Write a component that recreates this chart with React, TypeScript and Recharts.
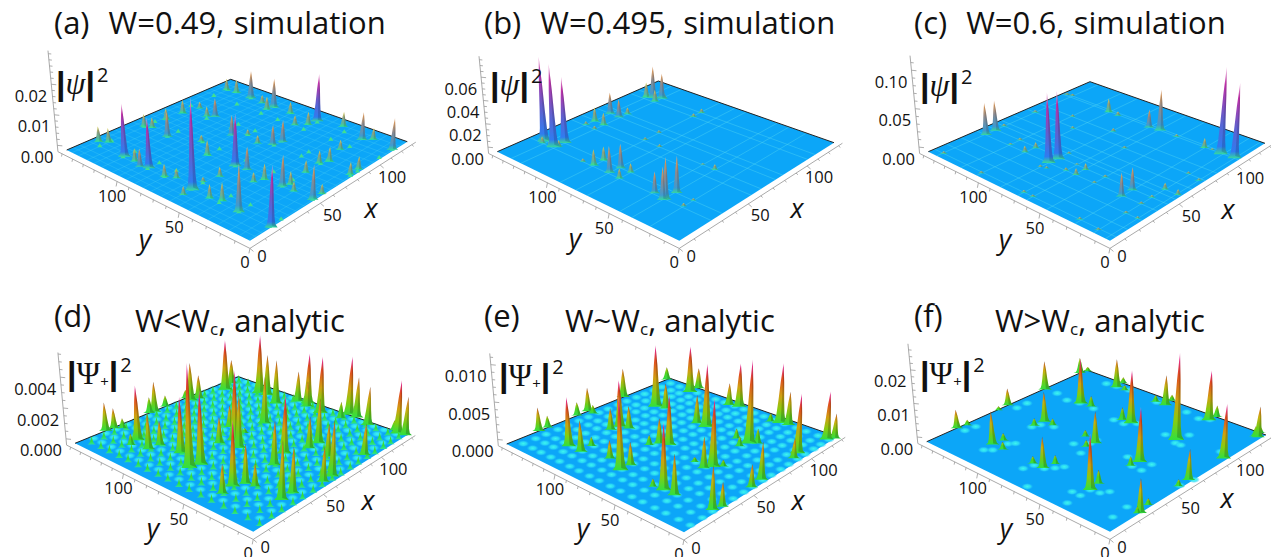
import React from "react";
import { ScatterChart, Scatter, XAxis, YAxis } from "recharts";

type Spike = [number, number, number];

// peaks: [x, y, height in zUnit]
const spikesA: Spike[] = [[15,113,1703],[15,92,1588],[14,56,2777],[45,57,1639],[14,22,1377],[14,0,1731],[45,22,949],[45,1,1020],[113,58,1649],[111,92,1039],[112,113,1001],[111,22,919],[112,1,1026],[17,139,517],[20,134,472],[15,104,421],[13,97,573],[45,134,433],[47,129,352],[45,113,835],[14,78,408],[17,72,305],[8,56,265],[23,58,151],[14,43,419],[16,36,552],[32,55,306],[44,78,481],[53,93,220],[69,85,671],[46,49,724],[75,78,190],[71,66,274],[75,58,656],[81,56,716],[44,34,506],[39,37,303],[49,20,401],[45,14,297],[63,22,391],[52,1,296],[75,23,420],[80,20,474],[94,24,324],[76,2,389],[83,2,414],[117,41,513],[115,17,387],[101,65,343],[106,59,458],[111,78,412],[106,93,474],[111,102,301],[112,126,495],[111,134,437],[80,111,642],[77,115,350],[82,127,238],[71,130,471],[59,131,405]];
const spikesB: Spike[] = [[24,134,738],[23,124,715],[30,123,576],[22,133,58],[22,126,57],[25,122,57],[23,89,134],[30,89,116],[23,76,216],[30,75,199],[30,67,76],[22,67,80],[22,97,28],[23,41,168],[22,32,327],[30,32,290],[21,33,255],[104,128,305],[107,123,240],[102,132,144],[101,123,111],[108,122,48],[72,132,197],[72,124,165],[59,131,130],[59,123,111],[78,123,62],[53,132,30],[52,123,30],[72,89,24],[60,76,23],[61,89,23],[107,88,40],[100,88,31],[60,42,14],[60,33,46],[23,20,25],[30,20,18]];
const spikesC: Spike[] = [[33,136,432],[40,136,409],[33,81,887],[39,80,869],[99,12,1122],[100,3,960],[100,59,553],[99,67,245],[99,101,197],[99,93,61],[82,80,45],[99,24,130],[100,19,22],[32,24,281],[40,24,273],[51,11,79],[51,2,67],[33,59,82],[40,59,82],[33,67,37],[41,67,21],[33,101,86],[40,100,78],[34,115,22],[47,80,30],[4,136,30],[3,101,29],[4,67,28],[4,60,27],[4,25,26],[3,11,26],[22,11,26],[22,3,26],[33,11,27],[41,11,27],[71,12,29],[69,3,28],[100,46,31],[71,60,30],[41,45,28],[33,45,28],[28,77,29],[27,81,29],[41,115,31],[71,137,33],[101,141,34],[102,137,34],[70,102,32],[81,114,33],[47,137,32]];
const spikesD: Spike[] = [[20,145,1883],[25,144,1336],[28,140,668],[24,120,3566],[21,106,2280],[28,105,1602],[18,118,747],[51,145,1100],[54,144,2101],[63,145,786],[21,71,6398],[29,88,3559],[27,69,4580],[79,140,2709],[84,138,1702],[79,145,610],[104,135,3744],[114,140,1784],[22,38,3873],[28,35,2343],[14,37,1715],[29,29,1357],[50,80,1721],[58,76,4561],[68,91,1462],[53,67,3402],[68,78,332],[114,113,4334],[115,107,2958],[109,93,3129],[51,37,2758],[64,42,3682],[28,9,3388],[36,9,2677],[84,78,3184],[122,77,3617],[116,61,3987],[118,74,1791],[120,84,2180],[85,35,2919],[77,35,2027],[125,45,4111],[125,39,2794],[118,46,1158],[121,27,2618],[90,5,1998],[61,4,3385],[54,4,2065],[76,20,2091],[123,6,3567],[124,1,2553],[125,10,675]];
const spikesE: Spike[] = [[21,145,3208],[27,145,1620],[20,115,6518],[20,104,4126],[28,105,1235],[48,145,1916],[56,145,3404],[56,140,1205],[84,145,4311],[20,70,9153],[25,85,2354],[27,70,2950],[54,112,6515],[56,106,3106],[48,113,2996],[87,117,9135],[122,145,1992],[89,110,3689],[56,71,6671],[54,77,3348],[49,80,1332],[20,36,8154],[20,28,4918],[19,43,1001],[117,117,7094],[125,117,3141],[86,71,8902],[86,79,4016],[53,33,8781],[49,36,3991],[57,29,845],[51,45,640],[22,3,5145],[27,1,2882],[118,82,3245],[120,75,6463],[86,36,11324],[86,46,1365],[80,38,1335],[89,32,2023],[118,39,8560],[119,33,4737],[116,45,1194],[94,6,7908],[88,4,2601],[59,3,4715],[50,2,2822],[118,3,6611],[122,0,3437]];
const spikesF: Spike[] = [[21,145,556],[27,143,173],[21,113,976],[28,112,217],[21,104,223],[21,71,886],[21,79,207],[28,69,254],[58,111,919],[51,112,223],[58,104,203],[88,144,927],[59,145,529],[51,144,126],[88,112,1429],[89,104,336],[119,145,509],[124,143,147],[21,35,1506],[28,36,380],[58,35,1554],[52,36,262],[60,79,198],[52,70,194],[58,69,938],[88,77,388],[88,70,1623],[118,111,919],[125,112,199],[118,104,163],[118,78,212],[118,70,947],[125,71,191],[89,36,2568],[119,37,1528],[125,36,359],[89,2,1559],[120,2,905],[125,4,169],[120,4,295],[60,2,846],[52,2,189],[21,0,902],[29,2,174],[20,1,172]];

// light rings on the analytic surfaces
const latticeX = [6,14,21,29,36,44,51,59,66,74,81,89,96,104,111,119];
const latticeY = [2,10,19,27,36,44,53,61,70,78,87,95,104,112,121,129,138];
const ringsDx = [10,18,25,33,40,48,55,63,70,78,85,93,100,108,115,122];
const ringsDy = [6,15,23,32,40,49,57,66,74,83,91,100,108,117,125,134,142];
const spotsF: [number, number][] = [[22,139],[29,138],[17,108],[14,112],[27,107],[30,104],[14,79],[20,77],[21,70],[25,66],[29,63],[14,41],[14,35],[21,35],[22,29],[26,26],[50,78],[56,71],[45,67],[61,71],[52,35],[52,28],[60,28],[58,44],[90,45],[86,34],[98,34],[86,30],[117,43],[120,37],[85,81],[85,73],[90,67],[86,122],[88,113],[88,101],[89,134],[54,110],[57,102],[49,112],[118,120],[119,112],[120,102],[118,77],[119,54],[60,138],[68,138],[94,8],[53,2],[62,0],[3,63],[5,35],[21,9],[10,8]];

// pale grid lines on the simulated surfaces
const gridA = { x: [4,8,14,18,22,27,32,38,45,49,53,58,63,69,75,81,87,94,101,106,112,118], y: [1,7,14,22,29,36,43,50,57,64,72,78,85,92,98,104,113,120,126,134,140] };
const gridB = { x: [22,30,52,60,72,78,100,107], y: [20,33,42,67,76,89,123,132] };
const gridC = { x: [4,12,22,33,41,47,51,60,71,81,100,102], y: [3,11,24,45,60,67,81,101,115,137] };

const bumpsAx = [14,22,45,53,75,81,100,112];
const bumpsAy = [1,22,36,57,78,92,113,134];

const xTicks = [0,10,20,30,40,50,60,70,80,90,100,110,120,130];
const yTicks = [0,10,20,30,40,50,60,70,80,90,100,110,120,130,140,150];
const tickLabels = [0,50,100];

type Pt = [number, number];
type Panel = {
  id: string; left: number; top: number; title: string; sub?: string; lead?: string;
  F: Pt; R: Pt; B: Pt; L: Pt; k: number; zUnit: number; spikes: Spike[];
  zMajor: number[]; zDigits: number; zMinor: number; zTop: number;
  palette: "sim" | "ana"; grid?: { x: number[]; y: number[] };
  psi: string; psiX: number; psiY: number; xLab: Pt; yLab: Pt;
};

const panels: Panel[] = [
  { id: "a", left: 0, top: 0, title: "(a)  W=0.49, simulation", F: [250,240.7], R: [407.3,141.7], B: [230.7,79.3], L: [66.7,150], k: 3710, zUnit: 1e-5, spikes: spikesA, zMajor: [0,0.01,0.02], zDigits: 2, zMinor: 0.002, zTop: 0.031, palette: "sim", grid: gridA, psi: "\u03c8", psiX: 56, psiY: 83, xLab: [371,208], yLab: [145,239] },
  { id: "b", left: 430, top: 0, title: "(b)  W=0.495, simulation", F: [249.3,240.7], R: [404,142.7], B: [228.3,81], L: [67.3,151.7], k: 1410, zUnit: 1e-4, spikes: spikesB, zMajor: [0,0.02,0.04,0.06], zDigits: 2, zMinor: 0.005, zTop: 0.078, palette: "sim", grid: gridB, psi: "\u03c8", psiX: 60, psiY: 84, xLab: [367,208], yLab: [145,238] },
  { id: "c", left: 860, top: 0, title: "(c)  W=0.6, simulation", F: [250,240.7], R: [405,143.3], B: [230,81.7], L: [68.3,151.7], k: 930, zUnit: 1e-4, spikes: spikesC, zMajor: [0,0.05,0.1], zDigits: 2, zMinor: 0.01, zTop: 0.119, palette: "sim", grid: gridC, psi: "\u03c8", psiX: 60, psiY: 85, xLab: [368,209], yLab: [145,239] },
  { id: "d", left: 0, top: 280, lead: "(d)", title: "W<W", sub: "c", F: [253.3,251.7], R: [407.3,155], B: [238.3,96.7], L: [75,163.3], k: 19000, zUnit: 1e-6, spikes: spikesD, zMajor: [0,0.002,0.004], zDigits: 3, zMinor: 0.0005, zTop: 0.0056, palette: "ana", psi: "\u03a8", psiX: 67, psiY: 93, xLab: [368,220], yLab: [153,248] },
  { id: "e", left: 430, top: 280, lead: "(e)", title: "W~W", sub: "c", F: [254,252.3], R: [407.3,156.7], B: [240,98.3], L: [76.7,164], k: 9200, zUnit: 1e-6, spikes: spikesE, zMajor: [0,0.005,0.01], zDigits: 3, zMinor: 0.001, zTop: 0.0115, palette: "ana", psi: "\u03a8", psiX: 69, psiY: 95, xLab: [368,220], yLab: [153,248] },
  { id: "f", left: 860, top: 280, lead: "(f)", title: "W>W", sub: "c", F: [250,251.7], R: [406,155], B: [226.7,90], L: [66.7,161.7], k: 4000, zUnit: 1e-5, spikes: spikesF, zMajor: [0,0.01,0.02], zDigits: 2, zMinor: 0.002, zTop: 0.0278, palette: "ana", psi: "\u03a8", psiX: 60, psiY: 93, xLab: [367,218], yLab: [146,248] },
];

const X_MAX = 125;
const Y_MAX = 145;
const BOX_X = 134;
const BOX_Y = 154;
const FLOOR_PX = 7.7;
const CHART_W = 430;
const CHART_H = 280;
const LEAN_X = 235;
const LEAN_D = 1800;
const FONT = "'Open Sans', sans-serif";

// perspective map from the corners of the surface (x along F-R, y along F-L)
const makeProjection = (p: Panel) => {
  const { F, R, B, L } = p;
  const sx = F[0] - R[0] + B[0] - L[0];
  const sy = F[1] - R[1] + B[1] - L[1];
  const d1x = R[0] - B[0], d1y = R[1] - B[1], d2x = L[0] - B[0], d2y = L[1] - B[1];
  const det = d1x * d2y - d2x * d1y;
  const g = (sx * d2y - d2x * sy) / det;
  const h = (d1x * sy - sx * d1y) / det;
  const a = R[0] - F[0] + g * R[0], b = L[0] - F[0] + h * L[0];
  const d = R[1] - F[1] + g * R[1], e = L[1] - F[1] + h * L[1];
  return (x: number, y: number, z = 0, dx = 0) => {
    const u = x / X_MAX, v = y / Y_MAX;
    const w = 1 + g * u + h * v;
    const baseX = (a * u + b * v + F[0]) / w;
    const lift = (p.k * z) / w;
    return {
      sx: baseX + ((baseX - LEAN_X) * lift) / LEAN_D + dx,
      sy: (d * u + e * v + F[1]) / w - lift,
      w,
    };
  };
};

const NoDot = () => <g />;
const PROFILE: [number, number][] = [[-1,0],[-0.66,0.05],[-0.5,0.16],[-0.36,0.38],[-0.22,0.68],[0,1],[0.22,0.68],[0.36,0.38],[0.5,0.16],[0.66,0.05],[1,0]];
const SHADE: [number, number][] = [[0.1,0.03],[0.06,0.66],[0,1],[0.22,0.68],[0.36,0.38],[0.5,0.16],[0.66,0.05],[1,0]];

const gradients: Record<string, [number, string][]> = {
  simLow: [[0,"#2fe890"],[0.22,"#55b8a0"],[0.6,"#90a080"],[1,"#e8da5c"]],
  simMid: [[0,"#35d8a0"],[0.14,"#3f9ad0"],[0.55,"#8a8a90"],[0.85,"#d89a60"],[1,"#f2c8a8"]],
  simTop: [[0,"#35d8a0"],[0.09,"#2f7cf0"],[0.45,"#6a5ac8"],[0.8,"#c02fa8"],[1,"#ffc0e8"]],
  anaLow: [[0,"#2fe04a"],[0.5,"#50d420"],[0.85,"#a8c410"],[1,"#5a5a20"]],
  anaMid: [[0,"#30e040"],[0.3,"#70cc18"],[0.65,"#c8b010"],[0.9,"#d87820"],[1,"#604030"]],
  anaTop: [[0,"#30e040"],[0.22,"#88cc10"],[0.45,"#d0a010"],[0.75,"#e04a20"],[0.92,"#f03090"],[1,"#ffb0e0"]],
};

const Gradients = () => (
  <svg width={0} height={0} style={{ position: "absolute" }}>
    <defs>
      {Object.entries(gradients).map(([id, stops]) => (
        <linearGradient key={id} id={id} x1="0" y1="1" x2="0" y2="0">
          {stops.map(([o, c]) => <stop key={o} offset={o} stopColor={c} />)}
        </linearGradient>
      ))}
      <radialGradient id="ring">
        <stop offset="0" stopColor="#3ff6ee" />
        <stop offset="0.55" stopColor="#2fe4f4" stopOpacity={0.8} />
        <stop offset="1" stopColor="#20c0f8" stopOpacity={0} />
      </radialGradient>
      <linearGradient id="bump" x1="0" y1="1" x2="0" y2="0">
        <stop offset="0" stopColor="#2ae0a0" />
        <stop offset="0.4" stopColor="#30e040" />
        <stop offset="1" stopColor="#58d018" />
      </linearGradient>
    </defs>
  </svg>
);

const poly = (points: { sx: number; sy: number }[], key: string, props: React.SVGProps<SVGPathElement>) => (
  <Scatter key={key} data={points} shape={NoDot} line={props as any} lineType="joint" legendType="none" isAnimationActive={false} />
);

const Plot = ({ p }: { p: Panel }) => {
  const at = makeProjection(p);
  const floorZ = -FLOOR_PX / p.k;
  const zMax = Math.max(...p.spikes.map((s) => s[2]));
  const sorted = [...p.spikes].sort((s, t) => at(t[0], t[1]).w - at(s[0], s[1]).w);
  const surface = [at(0,0), at(X_MAX,0), at(X_MAX,Y_MAX), at(0,Y_MAX), at(0,0)];
  const family = p.palette;

  const zTicks: { sx: number; sy: number; major: boolean; label: string }[] = [];
  for (let i = 0; i * p.zMinor <= p.zTop; i++) {
    const v = i * p.zMinor;
    const hit = p.zMajor.find((m) => Math.abs(m - v) < p.zMinor / 10);
    const pt = at(0, BOX_Y, v);
    zTicks.push({ sx: pt.sx, sy: pt.sy, major: hit !== undefined, label: hit !== undefined ? hit.toFixed(p.zDigits) : "" });
  }
  const xTickPts = xTicks.map((t) => ({ ...at(t, 0, floorZ), t }));
  const yTickPts = yTicks.map((t) => ({ ...at(0, t, floorZ), t }));

  const tickShape = (dx: number, dy: number, lx: number, ly: number, ly0: number) => (q: any) => {
    const major = tickLabels.includes(q.payload.t);
    const s = major ? 1 : 0.55;
    return (
      <g>
        <line x1={q.cx} y1={q.cy} x2={q.cx + dx * s} y2={q.cy + dy * s} stroke="#999" strokeWidth={0.8} />
        {major && (
          <text x={q.cx + lx} y={q.cy + (q.payload.t === 0 ? ly0 : ly)} textAnchor="middle" dominantBaseline="central" fontFamily={FONT} fontSize={16.5} fill="#111">{q.payload.t}</text>
        )}
      </g>
    );
  };

  const zShape = (q: any) => {
    const major = q.payload.major;
    return (
      <g>
        <line x1={q.cx} y1={q.cy} x2={q.cx + (major ? 5 : 3)} y2={q.cy + (major ? 0.5 : 0.3)} stroke="#999" strokeWidth={0.8} />
        {major && (
          <text x={q.cx - 4} y={q.cy + 11} textAnchor="end" dominantBaseline="central" fontFamily={FONT} fontSize={16.5} fill="#111">{q.payload.label}</text>
        )}
      </g>
    );
  };

  const spotShape = (q: any) => <ellipse cx={q.cx} cy={q.cy} rx={6} ry={3.4} fill="url(#ring)" />;
  const bumpShape = (q: any) => (
    <path d={`M${q.cx - 4.2} ${q.cy + 1.6}Q${q.cx - 1.2} ${q.cy + 0.8} ${q.cx} ${q.cy - 7}Q${q.cx + 1.2} ${q.cy + 0.8} ${q.cx + 4.2} ${q.cy + 1.6}Z`} fill="url(#bump)" />
  );
  const tinyShape = (q: any) => <path d={`M${q.cx - 2.5} ${q.cy + 1}L${q.cx} ${q.cy - 3}L${q.cx + 2.5} ${q.cy + 1}Z`} fill="#40e090" />;

  const lattice = p.id === "d" ? latticeX.flatMap((x) => latticeY.map((y) => at(x, y))) : [];
  let rings: { sx: number; sy: number }[] = [];
  if (p.id === "f") rings = spotsF.map(([x, y]) => at(x, y));
  if (p.id === "e") rings = latticeX.flatMap((x) => latticeY.map((y) => at(x, y)));
  if (p.id === "d") rings = ringsDx.flatMap((x) => ringsDy.map((y) => at(x, y)));
  const tiny = p.id === "a" ? bumpsAx.flatMap((x) => bumpsAy.map((y) => at(x, y))) : [];
  const gridOpacity = p.id === "a" ? 0.22 : 0.35;

  return (
    <ScatterChart width={CHART_W} height={CHART_H} margin={{ top: 0, right: 0, bottom: 0, left: 0 }}>
      <XAxis type="number" dataKey="sx" domain={[0, CHART_W]} hide allowDataOverflow />
      <YAxis type="number" dataKey="sy" domain={[0, CHART_H]} reversed hide allowDataOverflow width={0} />

      {poly([at(0,0,floorZ), at(BOX_X,0,floorZ)], "xAxis", { stroke: "#aaa", strokeWidth: 1, fill: "none" })}
      {poly([at(0,0,floorZ), at(0,BOX_Y,floorZ)], "yAxis", { stroke: "#aaa", strokeWidth: 1, fill: "none" })}
      {poly([at(0,BOX_Y,floorZ), at(0,BOX_Y,p.zTop)], "zAxis", { stroke: "#aaa", strokeWidth: 1, fill: "none" })}
      <Scatter data={xTickPts} shape={tickShape(3.5, 3, 12, 11, 7)} legendType="none" isAnimationActive={false} />
      <Scatter data={yTickPts} shape={tickShape(-1, 5, -5, 14, 13)} legendType="none" isAnimationActive={false} />
      <Scatter data={zTicks} shape={zShape} legendType="none" isAnimationActive={false} />

      {poly(surface, "surface", { fill: "#0ca6f8", stroke: "none" })}
      {p.grid && p.grid.x.map((x) => poly([at(x,0), at(x,Y_MAX)], `gx${x}`, { stroke: "#5fe0f0", strokeOpacity: gridOpacity, strokeWidth: 1, fill: "none" }))}
      {p.grid && p.grid.y.map((y) => poly([at(0,y), at(X_MAX,y)], `gy${y}`, { stroke: "#5fe0f0", strokeOpacity: gridOpacity, strokeWidth: 1, fill: "none" }))}
      {rings.length > 0 && <Scatter data={rings} shape={spotShape} legendType="none" isAnimationActive={false} />}
      {poly([at(X_MAX,0), at(X_MAX,Y_MAX), at(0,Y_MAX)], "backEdge", { stroke: "#222", strokeWidth: 1, fill: "none" })}
      {tiny.length > 0 && <Scatter data={tiny} shape={tinyShape} legendType="none" isAnimationActive={false} />}
      {lattice.length > 0 && <Scatter data={lattice} shape={bumpShape} legendType="none" isAnimationActive={false} />}

      {sorted.map(([x, y, z], i) => {
        const rel = z / zMax;
        const cls = rel > 0.55 ? "Top" : rel > 0.2 ? "Mid" : "Low";
        const bw = p.palette === "ana" ? Math.min(8, 6 + rel * 2.5) : Math.min(7, 5 + rel * 2.5);
        const zv = z * p.zUnit;
        return (
          <React.Fragment key={i}>
            {poly(PROFILE.map(([o, f]) => at(x, y, zv * f, o * bw)), `s${i}`, { fill: `url(#${family}${cls})`, stroke: "none" })}
            {poly(SHADE.map(([o, f]) => at(x, y, zv * f, o * bw)), `d${i}`, { fill: "#000", fillOpacity: p.palette === "ana" ? 0.2 : 0.14, stroke: "none" })}
          </React.Fragment>
        );
      })}
    </ScatterChart>
  );
};

const Bar = () => <span style={{ fontFamily: "'Liberation Sans', sans-serif", fontSize: 34, fontWeight: 700 }}>|</span>;

const Psi = ({ p }: { p: Panel }) => (
  <div style={{ position: "absolute", left: p.psiX, top: p.psiY - 24, height: 48, lineHeight: "48px", whiteSpace: "pre", color: "#111", display: "flex", alignItems: "center" }}>
    <Bar />
    <span style={{ fontFamily: "'Liberation Serif', serif", fontStyle: p.psi === "\u03c8" ? "italic" : "normal", fontSize: 32 }}>{p.psi}</span>
    {p.psi === "\u03a8" && <span style={{ fontFamily: FONT, fontSize: 15, position: "relative", top: 8 }}>+</span>}
    <Bar />
    <span style={{ fontFamily: FONT, fontSize: 20, position: "relative", top: -8, marginLeft: 2 }}>2</span>
  </div>
);

const Title = ({ p }: { p: Panel }) => (
  <>
    <div style={{ position: "absolute", left: 54, top: p.lead ? 14 : 1, whiteSpace: "pre", wordSpacing: 1.5, fontFamily: FONT, fontSize: 31, color: "#111" }}>{p.lead ?? p.title}</div>
    {p.lead && (
      <div style={{ position: "absolute", left: 135, top: 19, whiteSpace: "pre", fontFamily: FONT, fontSize: 31, color: "#111" }}>
        {p.title}<sub style={{ fontSize: 17, verticalAlign: "-3px", lineHeight: 0 }}>{p.sub}</sub>, analytic
      </div>
    )}
  </>
);

const AxisName = ({ pos, text }: { pos: Pt; text: string }) => (
  <div style={{ position: "absolute", left: pos[0] - 15, top: pos[1] - 20, width: 30, height: 40, lineHeight: "40px", textAlign: "center", fontFamily: FONT, fontStyle: "italic", fontSize: 27, color: "#111" }}>{text}</div>
);

export default function App() {
  return (
    <div style={{ position: "fixed", left: 0, top: 0, width: 1271, height: 557, background: "#fff", overflow: "hidden" }}>
      <Gradients />
      {panels.map((p) => (
        <div key={p.id} style={{ position: "absolute", left: p.left, top: p.top, width: CHART_W, height: CHART_H }}>
          <Plot p={p} />
          <Title p={p} />
          <Psi p={p} />
          <AxisName pos={p.xLab} text="x" />
          <AxisName pos={p.yLab} text="y" />
        </div>
      ))}
    </div>
  );
}
